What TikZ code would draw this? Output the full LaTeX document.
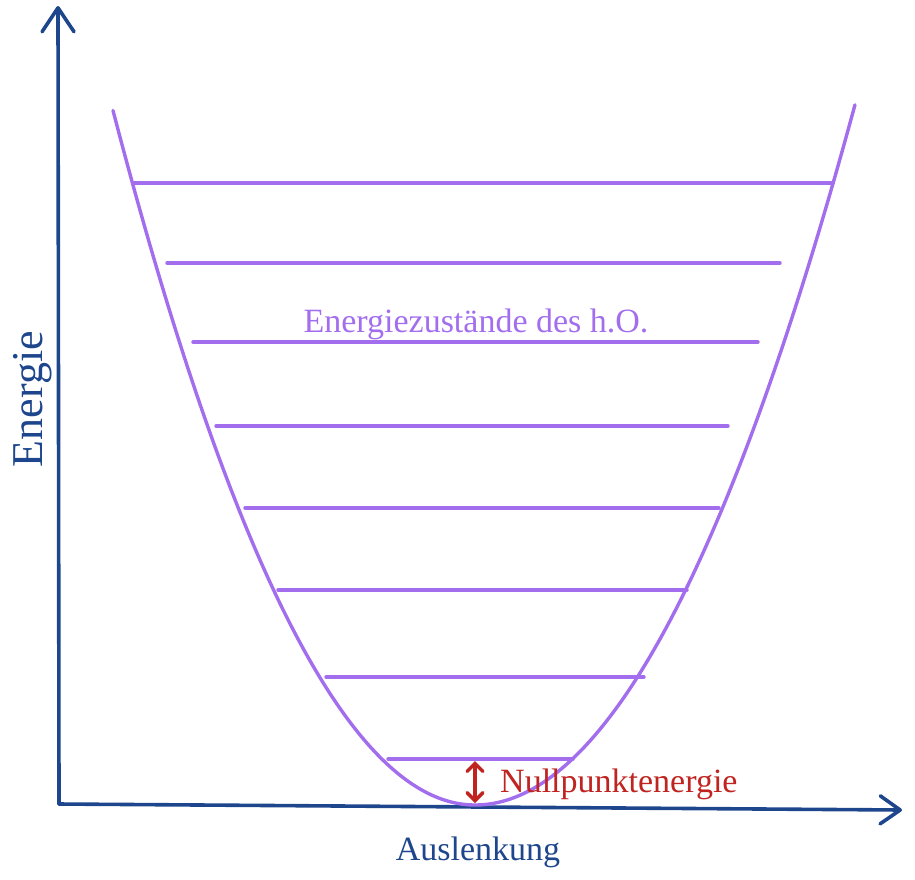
\documentclass[tikz,border=0pt]{standalone}
\usepackage{fontspec}
\setmainfont{Liberation Serif}
\usetikzlibrary{arrows.meta}
\definecolor{axblue}{RGB}{30,70,140}
\definecolor{lvlpurple}{RGB}{163,110,238}
\definecolor{zpred}{RGB}{192,36,32}
\tikzset{
  axis/.style={draw=axblue, line width=3.6pt, line cap=round, line join=round},
  level/.style={draw=lvlpurple, line width=3.4pt, line cap=round},
  curve/.style={draw=lvlpurple, line width=3.4pt, line cap=round},
  zparrow/.style={draw=zpred, line width=3.4pt, line cap=round,
    {Straight Barb[length=8pt,width=16pt,line cap=round]}-{Straight Barb[length=8pt,width=16pt,line cap=round]}},
  lbl/.style={font=\fontsize{34}{40}\selectfont, inner sep=0pt}
}
\begin{document}
\begin{tikzpicture}[x=1pt,y=-1pt]
\useasboundingbox (0,0) rectangle (915,879);
% axes
\coordinate (O) at (59,804);
\coordinate (ytip) at (58,6);
\coordinate (xtip) at (902,810);
\draw[axis, -{Straight Barb[length=24pt,width=32pt,line cap=round,line join=round]}] (O) -- (ytip);
\draw[axis, -{Straight Barb[length=20pt,width=28pt,line cap=round,line join=round]}] (O) -- (xtip);
% potential
\draw[curve] plot[domain=-3.62:0, samples=80, smooth] ({475+100*\x},{805-53*\x*\x})
  -- plot[domain=0:3.80, samples=80, smooth] ({475+100*\x},{805-48.5*\x*\x});
% levels
\foreach \i/\y/\xa/\xb in {1/183/134/833, 2/263/167/780, 3/342/193/758, 4/426/216/728,
  5/508/245/719, 6/590/278/687, 7/677/326/644, 8/759/388/573}{
  \coordinate (L\i a) at (\xa,\y);
  \coordinate (L\i b) at (\xb,\y);
  \draw[level] (L\i a) -- (L\i b);
}
% zero point energy
\coordinate (zptop) at (475,761);
\coordinate (zpbot) at (475,803);
\draw[zparrow] (zpbot) -- (zptop);
\node[lbl, text=zpred, anchor=base west] (zpe) at (500,792) {Nullpunktenergie};
\node[lbl, text=lvlpurple, anchor=base] (lvl) at (476,332) {Energiezustände des h.O.};
\node[lbl, text=axblue, anchor=base] (xl) at (478,860) {Auslenkung};
\node[lbl, text=axblue, anchor=base, rotate=90, font=\fontsize{44}{50}\selectfont] (yl) at (42,399) {Energie};
\end{tikzpicture}
\end{document}
